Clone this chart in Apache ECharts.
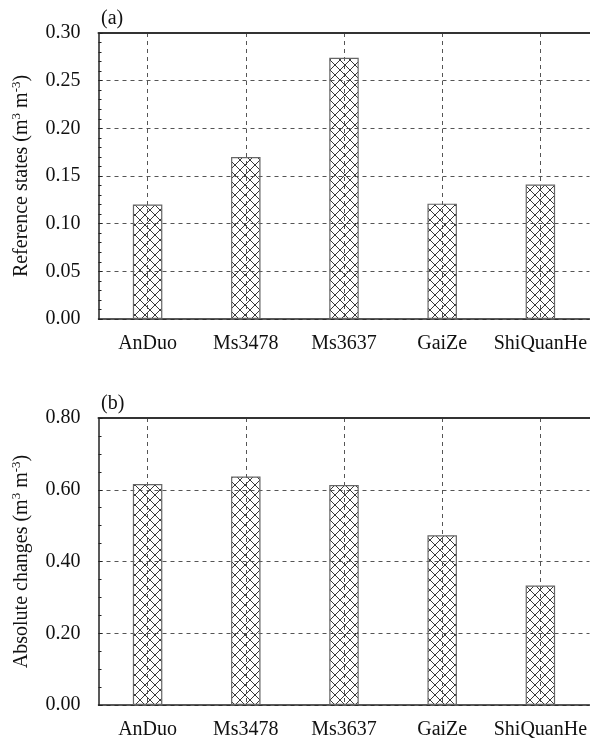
<!DOCTYPE html>
<html>
<head>
<meta charset="utf-8">
<script src="https://cdn.jsdelivr.net/npm/echarts@6/dist/echarts.min.js"></script>
<style>html,body{margin:0;padding:0;background:#fff;}#c{width:590px;height:744px;}</style>
</head>
<body>
<div id="c"></div>
<script>
const categories = ['AnDuo', 'Ms3478', 'Ms3637', 'GaiZe', 'ShiQuanHe'];
const referenceStates = [0.120, 0.170, 0.274, 0.121, 0.141];
const absoluteChanges = [0.616, 0.637, 0.613, 0.473, 0.333];
const yTicksA = { min: 0, max: 0.30, interval: 0.05, decimals: 2 };
const yTicksB = { min: 0, max: 0.80, interval: 0.20, decimals: 2 };

const FONT = '"Liberation Serif", "Times New Roman", serif';
const FS = 20;
const chart = echarts.init(document.getElementById('c'), null, { renderer: 'canvas' });

const P = 10;
const cv = document.createElement('canvas');
cv.width = P; cv.height = P;
const ctx = cv.getContext('2d');
ctx.strokeStyle = '#3a3a3a';
ctx.lineWidth = 1;
ctx.beginPath();
ctx.moveTo(0, 0); ctx.lineTo(P, P);
ctx.moveTo(P, 0); ctx.lineTo(0, P);
ctx.stroke();
const hatch = { image: cv, repeat: 'repeat' };

const grids = [
  { left: 98.5, right: 0, top: 33, height: 286 },
  { left: 98.5, right: 0, top: 418, height: 287 }
];

function xAxes(gi) {
  return [
    {
      type: 'category', gridIndex: gi, data: categories, position: 'bottom',
      axisLine: { lineStyle: { color: '#222', width: 1.5 } },
      axisTick: { alignWithLabel: true, interval: 0, inside: false, length: 4, lineStyle: { color: '#222' } },
      axisLabel: { interval: 0, color: '#111', fontFamily: FONT, fontSize: FS, margin: 15 },
      splitLine: { show: true, interval: 0, alignWithLabel: true, lineStyle: { color: '#555', type: [4, 4], width: 1 } }
    },
    {
      type: 'category', gridIndex: gi, data: categories, position: 'top',
      axisLine: { lineStyle: { color: '#333', width: 2 } },
      axisTick: { alignWithLabel: true, interval: 0, inside: true, length: 4, lineStyle: { color: '#222' } },
      axisLabel: { show: false },
      splitLine: { show: false }
    }
  ];
}

function yAxis(gi, t, nameText) {
  return {
    type: 'value', gridIndex: gi, min: t.min, max: t.max, interval: t.interval,
    name: nameText, nameLocation: 'middle', nameGap: 66, nameRotate: 90,
    nameTextStyle: {
      color: '#111', fontFamily: FONT, fontSize: FS,
      rich: {
        n: { fontFamily: FONT, fontSize: FS, color: '#111' },
        s: { fontFamily: FONT, fontSize: 13, color: '#111', verticalAlign: 'top', padding: [0, 0, 9, 0] }
      }
    },
    axisLine: { show: true, lineStyle: { color: '#222', width: 1.5 } },
    axisTick: { show: true, inside: true, length: 4, lineStyle: { color: '#222' } },
    minorTick: { show: true, splitNumber: gi === 0 ? 5 : 4, length: 3, lineStyle: { color: '#222' } },
    axisLabel: {
      color: '#111', fontFamily: FONT, fontSize: FS, margin: 18,
      formatter: v => v.toFixed(t.decimals)
    },
    splitLine: { show: true, lineStyle: { color: '#555', type: [4, 4], width: 1 } }
  };
}

const option = {
  backgroundColor: '#fff',
  animation: false,
  grid: grids,
  title: [
    { text: '(a)', left: 96, top: 4, textStyle: { fontFamily: FONT, fontSize: FS, fontWeight: 'normal', color: '#111' } },
    { text: '(b)', left: 96, top: 389, textStyle: { fontFamily: FONT, fontSize: FS, fontWeight: 'normal', color: '#111' } }
  ],
  xAxis: [...xAxes(0), ...xAxes(1)],
  yAxis: [
    yAxis(0, yTicksA, '{n|Reference states (m}{s|3}{n| m}{s|-3}{n|)}'),
    yAxis(1, yTicksB, '{n|Absolute changes (m}{s|3}{n| m}{s|-3}{n|)}')
  ],
  series: [
    {
      type: 'bar', xAxisIndex: 0, yAxisIndex: 0, data: referenceStates, barWidth: '30%',
      itemStyle: { color: hatch, borderColor: '#666', borderWidth: 1.2 }
    },
    {
      type: 'bar', xAxisIndex: 2, yAxisIndex: 1, data: absoluteChanges, barWidth: '30%',
      itemStyle: { color: hatch, borderColor: '#666', borderWidth: 1.2 }
    }
  ]
};
chart.setOption(option);
</script>
</body>
</html>
